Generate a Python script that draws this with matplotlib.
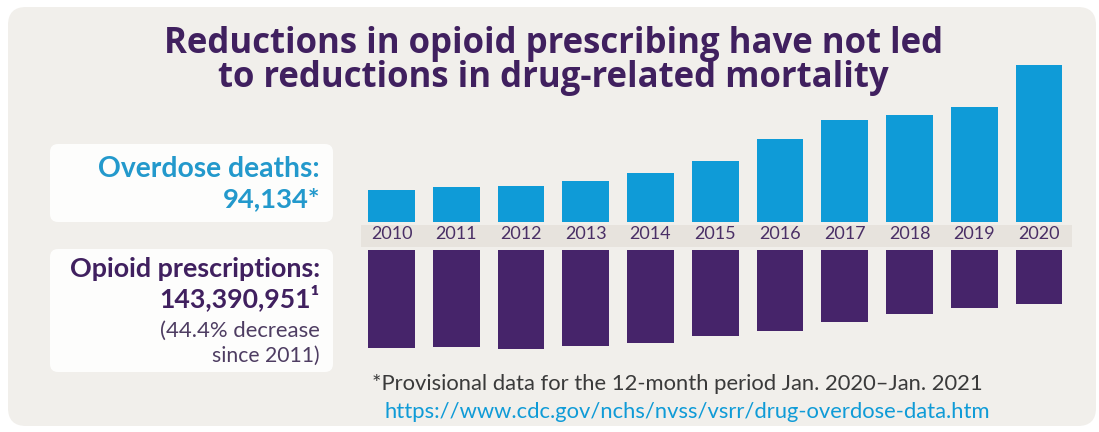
import matplotlib
matplotlib.use('Agg')
import matplotlib.pyplot as plt
from matplotlib.patches import FancyBboxPatch, Rectangle
from matplotlib import font_manager

# ---------------- data ----------------
years = ['2010', '2011', '2012', '2013', '2014', '2015', '2016', '2017', '2018', '2019', '2020']
# overdose deaths, thousands (bar heights as drawn, 2020 = 94.134)
overdose_deaths_k = [19.2, 21.2, 21.8, 24.8, 29.2, 36.6, 49.8, 61.0, 64.0, 68.8, 94.1]
# opioid prescriptions, millions
opioid_rx_m = [259.4, 258.3, 262.1, 255.7, 247.7, 229.2, 215.9, 190.4, 169.9, 153.2, 143.4]

title_lines = ['Reductions in opioid prescribing have not led',
               'to reductions in drug-related mortality']
deaths_label = 'Overdose deaths:'
deaths_total = '94,134*'
rx_label = 'Opioid prescriptions:'
rx_total = '143,390,951\u00b9'
rx_note = ['(44.4% decrease', 'since 2011)']
footnote = '*Provisional data for the 12-month period Jan. 2020\u2013Jan. 2021'
url = 'https://www.cdc.gov/nchs/nvss/vsrr/drug-overdose-data.htm'

# ---------------- styles ----------------
BLUE = '#0f9bd7'
BLUE_TXT = '#2399cc'
PURPLE = '#46246a'
TITLE_PURPLE = '#40205f'
PANEL = '#f1efeb'
BAND = '#e7e3dd'
GRAY_TXT = '#3a3a3a'
NOTE_TXT = '#4e3d62'

names = {f.name for f in font_manager.fontManager.ttflist}
NARROW = 'Liberation Sans Narrow' if 'Liberation Sans Narrow' in names else 'Lato'
MAIN = 'Lato'
TITLE_FONT = ['Open Sans', 'Lato', 'DejaVu Sans']
plt.rcParams['font.family'] = [MAIN, 'DejaVu Sans']

W, H = 1099, 432
fig = plt.figure(figsize=(W / 100, H / 100), dpi=100)
fig.patch.set_facecolor('white')

bg = fig.add_axes([0, 0, 1, 1])
bg.set_xlim(0, W)
bg.set_ylim(H, 0)
bg.axis('off')


def frac(x0, y0, x1, y1):
    return [x0 / W, 1 - y1 / H, (x1 - x0) / W, (y1 - y0) / H]


# panel and boxes
bg.add_patch(FancyBboxPatch((8 + 18, 7 + 18), 1088 - 36, 419 - 36,
                            boxstyle='round,pad=18', fc=PANEL, ec='none'))
bg.add_patch(FancyBboxPatch((50 + 8, 144 + 8), 283 - 16, 78 - 16,
                            boxstyle='round,pad=8', fc='#fdfdfc', ec='none'))
bg.add_patch(FancyBboxPatch((50 + 8, 249 + 8), 283 - 16, 123 - 16,
                            boxstyle='round,pad=8', fc='#fdfdfc', ec='none'))
bg.add_patch(Rectangle((361, 225), 711, 22, fc=BAND, ec='none'))

renderer = fig.canvas.get_renderer()


def fit_text(x, y, s, width, ha='center', maxsize=None, **kw):
    t = bg.text(x, y, s, ha=ha, va='center', **kw)
    bb = t.get_window_extent(renderer)
    size = t.get_fontsize() * width / bb.width
    if maxsize is not None:
        size = min(size, maxsize)
    t.set_fontsize(size)
    return t


fit_text(554, 43.5, title_lines[0], 852, maxsize=25, color=TITLE_PURPLE,
         fontweight='bold', fontsize=20, family=TITLE_FONT)
fit_text(553, 77.5, title_lines[1], 730, maxsize=25, color=TITLE_PURPLE,
         fontweight='bold', fontsize=20, family=TITLE_FONT)

fit_text(320, 169, deaths_label, 222, ha='right', color=BLUE_TXT, fontweight='bold', fontsize=16)
fit_text(320, 199, deaths_total, 98, ha='right', color=BLUE_TXT, fontweight='bold', fontsize=16)
fit_text(320, 269, rx_label, 252, ha='right', color=TITLE_PURPLE, fontweight='bold', fontsize=16)
fit_text(320, 298, rx_total, 160, ha='right', color=TITLE_PURPLE, fontweight='bold', fontsize=16)
fit_text(320, 331, rx_note[0], 160, ha='right', color=NOTE_TXT, fontsize=15)
fit_text(320, 356, rx_note[1], 108, ha='right', color=NOTE_TXT, fontsize=15)

fit_text(372, 384, footnote, 616, ha='left', color=GRAY_TXT, fontsize=14)
fit_text(385, 412, url, 610, ha='left', color=BLUE, fontsize=14)

# ---------------- bars ----------------
x = list(range(len(years)))
pitch = 64.75
x_left = 391.5 - 0.5 * pitch
x_right = 1039 + 0.5 * pitch

ax_top = fig.add_axes(frac(x_left, 65, x_right, 222))
ax_top.bar(x, overdose_deaths_k, width=0.72, color=BLUE)
ax_top.set_xlim(-0.5, len(years) - 0.5)
ax_top.set_ylim(0, max(overdose_deaths_k))
ax_top.set_xticks(x)
ax_top.set_xticklabels(years, family=NARROW,
                       fontsize=14 if NARROW != 'Lato' else 13,
                       color='#4a2f66')
ax_top.tick_params(axis='x', length=0, pad=3)
ax_top.set_yticks([])
ax_top.patch.set_alpha(0)
for s in ax_top.spines.values():
    s.set_visible(False)

ax_bot = fig.add_axes(frac(x_left, 250, x_right, 350))
ax_bot.bar(x, opioid_rx_m, width=0.72, color=PURPLE)
ax_bot.set_xlim(-0.5, len(years) - 0.5)
ax_bot.set_ylim(265.5, 0)
ax_bot.set_xticks([])
ax_bot.set_yticks([])
ax_bot.patch.set_alpha(0)
for s in ax_bot.spines.values():
    s.set_visible(False)

fig.savefig('out.png', dpi=100, facecolor=fig.get_facecolor())
